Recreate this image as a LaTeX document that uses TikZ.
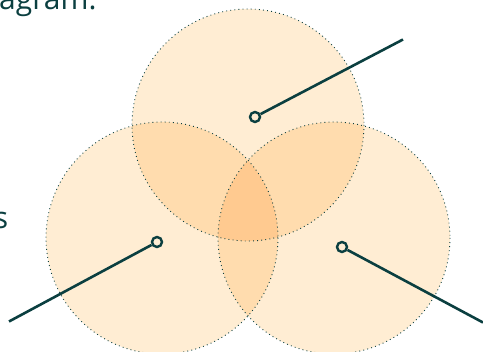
\documentclass[tikz,border=0pt]{standalone}
\usepackage{fontspec}
\setmainfont{Open Sans}
\definecolor{ink}{HTML}{0B3F40}
\definecolor{one}{HTML}{FFEDD3}
\definecolor{two}{HTML}{FFDCAE}
\definecolor{three}{HTML}{FFCA90}
\tikzset{
  outline/.style={draw=ink, line width=0.9pt, dash pattern=on 0.9pt off 3.2pt},
  lead/.style={draw=ink, line width=2.6pt},
  knob/.style={circle, draw=ink, line width=2.4pt, minimum size=10pt, inner sep=0pt},
  words/.style={text=ink, font=\fontsize{30}{36}\selectfont, inner sep=0pt}
}
\begin{document}
\begin{tikzpicture}[x=1pt,y=-1pt]
\useasboundingbox (0,0) rectangle (483,352);
\def\R{116}
\coordinate (ct) at (248,125);
\coordinate (cl) at (162,238);
\coordinate (cr) at (334,238);
% fills
\fill[one] (ct) circle (\R);
\fill[one] (cl) circle (\R);
\fill[one] (cr) circle (\R);
\begin{scope}\clip (ct) circle (\R); \fill[two] (cl) circle (\R); \fill[two] (cr) circle (\R);\end{scope}
\begin{scope}\clip (cl) circle (\R); \fill[two] (cr) circle (\R);\end{scope}
\begin{scope}\clip (ct) circle (\R); \clip (cl) circle (\R); \fill[three] (cr) circle (\R);\end{scope}
% outlines
\draw[outline] (ct) circle (\R);
\draw[outline] (cl) circle (\R);
\draw[outline] (cr) circle (\R);
% handles
\node[knob] (kt) at (255,117) {};
\node[knob] (kl) at (157,242) {};
\node[knob] (kr) at (342,247) {};
\coordinate (et) at (403,39.5);
\coordinate (el) at (9,321.5);
\coordinate (er) at (483,322.5);
\draw[lead] (kt) -- (et);
\draw[lead] (kl) -- (el);
\draw[lead] (kr) -- (er);
% text fragments
\node[words, anchor=base west] (t1) at (-1,10) {agram.};
\node[words, anchor=base east] (t2) at (8.5,229) {s};
\end{tikzpicture}
\end{document}
